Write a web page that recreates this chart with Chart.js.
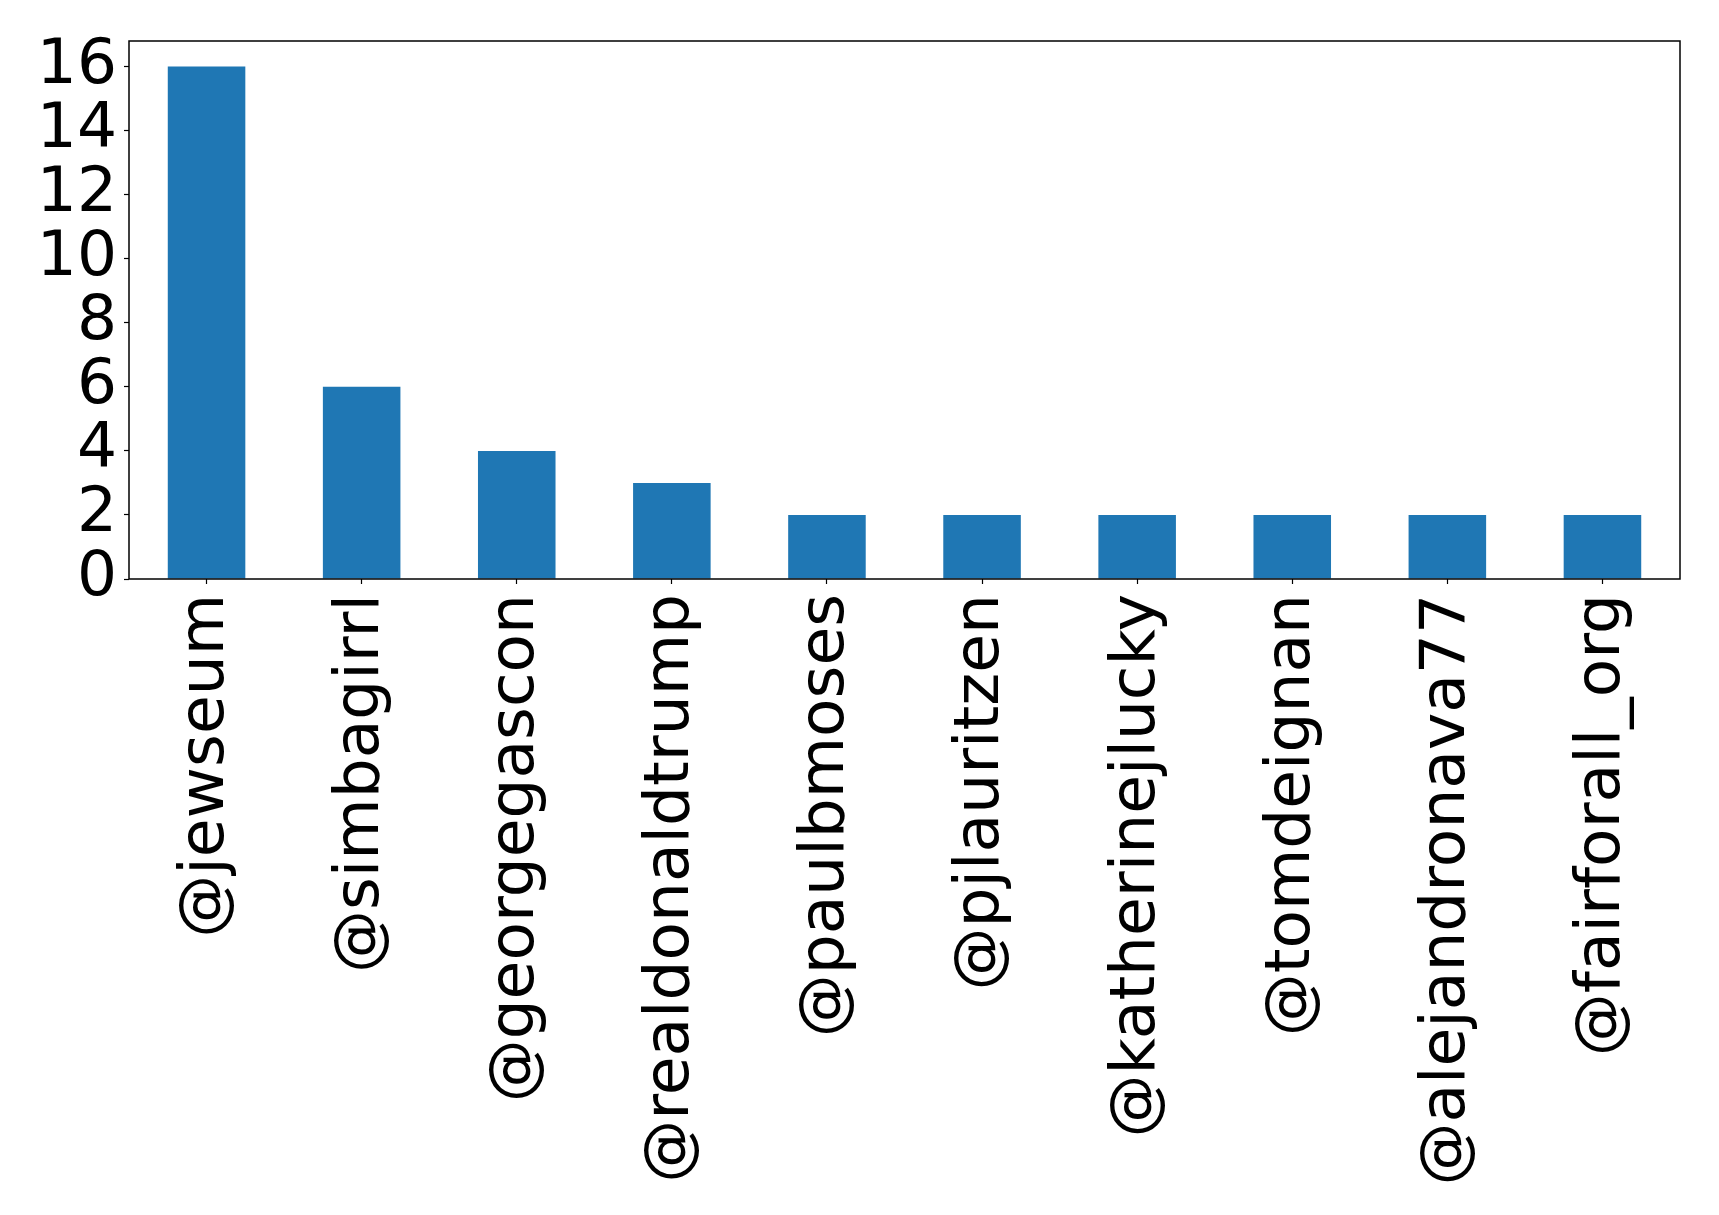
<!DOCTYPE html>
<html>
<head>
<meta charset="utf-8">
<script src="https://cdn.jsdelivr.net/npm/chart.js@4.4.0/dist/chart.umd.min.js"></script>
<style>
  html, body { margin:0; padding:0; background:#fff; }
  #wrap { width:1719px; height:1215px; }
</style>
</head>
<body>
<div id="wrap"><canvas id="chart" width="1719" height="1215"></canvas></div>
<script>
/* data */
const labels = ['@jewseum','@simbagirrl','@georgegascon','@realdonaldtrump','@paulbmoses',
                '@pjlauritzen','@katherinejlucky','@tomdeignan','@alejandronava77','@fairforall_org'];
const counts = [16, 6, 4, 3, 2, 2, 2, 2, 2, 2];
const yTicks = [0, 2, 4, 6, 8, 10, 12, 14, 16];

const FONT = "'DejaVu Sans', sans-serif";

// matplotlib-style box round the plot area
const frame = {
  id: 'frame',
  afterDraw(chart) {
    const a = chart.chartArea, c = chart.ctx;
    c.save();
    c.strokeStyle = '#000';
    c.lineWidth = 1.5;
    c.strokeRect(a.left, a.top, a.right - a.left, a.bottom - a.top);
    c.restore();
  }
};

new Chart(document.getElementById('chart').getContext('2d'), {
  type: 'bar',
  data: {
    labels: labels,
    datasets: [{ data: counts, backgroundColor: '#1f77b4', borderWidth: 0,
                 categoryPercentage: 1.0, barPercentage: 0.5 }]
  },
  options: {
    responsive: false,
    animation: false,
    layout: { padding: { top: 41, right: 39, left: 0, bottom: 0 } },
    plugins: { legend: { display: false }, tooltip: { enabled: false } },
    scales: {
      x: {
        grid: { drawOnChartArea: false, offset: false, color: '#000', tickLength: 5, tickWidth: 1.2 },
        border: { display: false },
        ticks: { color: '#000', font: { family: FONT, size: 63 }, minRotation: 90, maxRotation: 90,
                 autoSkip: false, padding: 10 },
        afterFit(s) { s.height = 636; s.paddingLeft = 0; s.paddingRight = 0; }
      },
      y: {
        min: 0, max: 16.8,
        grid: { drawOnChartArea: false, color: '#000', tickLength: 5, tickWidth: 1.2 },
        border: { display: false },
        afterBuildTicks(s) { s.ticks = yTicks.map(v => ({ value: v })); },
        ticks: { color: '#000', font: { family: FONT, size: 63 }, padding: 7, autoSkip: false },
        afterFit(s) { s.width = 129; s.paddingTop = 0; s.paddingBottom = 0; }
      }
    }
  },
  plugins: [frame]
});
</script>
</body>
</html>
